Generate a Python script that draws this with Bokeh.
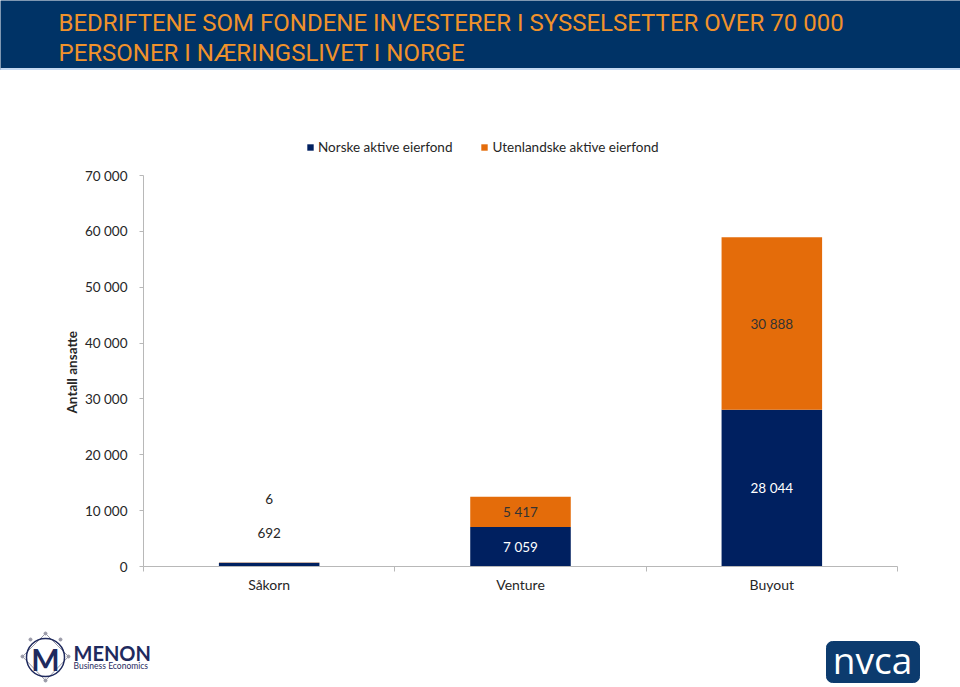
from bokeh.plotting import figure
from bokeh.models import (ColumnDataSource, Range1d, LinearAxis, Legend,
                          FixedTicker, CustomJSTickFormatter)
from bokeh.layouts import column
from bokeh.core.properties import value
from bokeh.embed import file_html
from bokeh.resources import INLINE

# ---------------- data ----------------
title_lines = ["BEDRIFTENE SOM FONDENE INVESTERER I SYSSELSETTER OVER 70 000",
               "PERSONER I NÆRINGSLIVET I NORGE"]
categories = ["Såkorn", "Venture", "Buyout"]
norske = [692, 7059, 28044]
utenlandske = [6, 5417, 30888]
series_names = ["Norske aktive eierfond", "Utenlandske aktive eierfond"]
y_ticks = [0, 10000, 20000, 30000, 40000, 50000, 60000, 70000]
y_tick_labels = ["0", "10 000", "20 000", "30 000", "40 000", "50 000", "60 000", "70 000"]
y_axis_title = "Antall ansatte"
logo_left_big = "MENON"
logo_left_small = "Business Economics"
logo_right = "nvca"

# ---------------- style ----------------
NAVY = "#002060"
ORANGE = "#E46C0A"
HEADER = "#003366"
TITLE_COLOR = "#F0922B"
AXIS_GRAY = "#B8B8B8"
TEXT = "#262626"
FONT = "Lato"
W = 960
FRAME_H = 436          # frame height incl. legend headroom
AXIS_H = 391           # pixel height of the 0..70 000 axis
HEADROOM = FRAME_H / AXIS_H
YTITLE_LEN = 85        # approx. rendered length of the y-axis title

def fmt(v):
    return f"{v:,}".replace(",", " ")

n = len(categories)
xpos = [i + 0.5 for i in range(n)]   # slot i spans [i, i+1]

# ---------------- header ----------------
hdr = figure(width=W, height=70, x_range=Range1d(0, W), y_range=Range1d(70, 0),
             output_backend="svg", toolbar_location=None, min_border=0,
             x_axis_location=None, y_axis_location=None, outline_line_color=None,
             background_fill_color=HEADER, border_fill_color=HEADER, frame_align=False)
hdr.grid.visible = False
hdr.quad(left=0, right=W, top=68, bottom=70, color="#C5D9F1")
hdr.text(x=[58, 58], y=[22, 52], text=title_lines,
         text_font=value("Roboto"), text_font_size="24px",
         text_color=TITLE_COLOR, text_baseline="alphabetic", text_align="left")

# ---------------- chart ----------------
src = ColumnDataSource(dict(x=xpos, norske=norske, utenl=utenlandske))
p = figure(x_range=Range1d(0, n), y_range=Range1d(0, y_ticks[-1] * HEADROOM),
           width=W, height=555, output_backend="svg", toolbar_location=None,
           title=y_axis_title, title_location="left",
           x_axis_location=None, min_border_left=143, min_border_right=63,
           min_border_top=60, min_border_bottom=59, outline_line_color=None,
           background_fill_color="white", border_fill_color="white", frame_align=False)
p.grid.visible = False

# y-axis title, centred on the 0..70 000 span rather than on the whole frame
p.title.align = "left"
p.title.offset = AXIS_H / 2 - YTITLE_LEN / 2
p.title.text_font = FONT
p.title.text_font_style = "bold"
p.title.text_font_size = "13.5px"
p.title.text_color = TEXT
p.title.standoff = 4

rs = p.vbar_stack(["norske", "utenl"], x="x", width=0.4, fill_color=[NAVY, ORANGE],
                  line_color=None, source=src)

# y axis
ya = p.yaxis[0]
ya.bounds = (y_ticks[0], y_ticks[-1])
ya.ticker = FixedTicker(ticks=y_ticks)
ya.major_label_overrides = dict(zip(y_ticks, y_tick_labels))
ya.major_label_text_font = FONT
ya.major_label_text_font_size = "13.5px"
ya.major_label_text_color = TEXT
ya.major_label_standoff = 12
ya.axis_line_color = AXIS_GRAY
ya.major_tick_line_color = AXIS_GRAY
ya.major_tick_in = 0
ya.major_tick_out = 4
ya.minor_tick_line_color = None

# x axis: boundary ticks (no labels) + category labels (no ticks)
bax = LinearAxis(ticker=FixedTicker(ticks=list(range(n + 1))),
                 formatter=CustomJSTickFormatter(code="return ''"),
                 axis_line_color=AXIS_GRAY, major_tick_line_color=AXIS_GRAY,
                 major_tick_in=0, major_tick_out=5, minor_tick_line_color=None,
                 major_label_standoff=0)
p.add_layout(bax, "below")
cax = LinearAxis(ticker=FixedTicker(ticks=xpos),
                 formatter=CustomJSTickFormatter(args=dict(cats=categories),
                                                 code="return cats[Math.floor(tick)]"),
                 axis_line_color=None, major_tick_line_color=None, minor_tick_line_color=None,
                 major_tick_in=0, major_tick_out=0, major_label_standoff=4,
                 major_label_text_font=FONT, major_label_text_font_size="14px",
                 major_label_text_color=TEXT)
p.add_layout(cax, "below")

# legend (inside the headroom of the frame)
lg = Legend(items=[(name, [r]) for name, r in zip(series_names, rs)],
            location=(163, 411), orientation="horizontal", padding=0, margin=0,
            border_line_color=None, background_fill_alpha=0,
            glyph_width=8, glyph_height=8, label_height=8, label_standoff=4, spacing=28,
            label_text_font=FONT, label_text_font_size="13.5px", label_text_color=TEXT,
            label_text_baseline="middle")
p.add_layout(lg, "center")

# data labels
outside_offsets = {(0, 0): -32, (0, 1): -64}
inside_colors = ["#FFFFFF", "#333333"]
lx, ly, lt, lc, lo = [], [], [], [], []
for i in range(n):
    bottom = 0
    for k, series in enumerate((norske, utenlandske)):
        v = series[i]
        lx.append(xpos[i])
        ly.append(bottom + v / 2)
        lt.append(fmt(v))
        if (i, k) in outside_offsets:
            lc.append(TEXT)
            lo.append(outside_offsets[(i, k)])
        else:
            lc.append(inside_colors[k])
            lo.append(0)
        bottom += v
lsrc = ColumnDataSource(dict(x=lx, y=ly, t=lt, c=lc, o=lo))
p.text(x="x", y="y", text="t", text_color="c", y_offset="o", source=lsrc,
       text_align="center", text_baseline="middle", text_font=value(FONT),
       text_font_size="13.5px")

# ---------------- footer (logos) ----------------
ft = figure(width=W, height=62, x_range=Range1d(0, W), y_range=Range1d(62, 0),
            output_backend="svg", toolbar_location=None, min_border=0,
            x_axis_location=None, y_axis_location=None, outline_line_color=None,
            background_fill_color="white", border_fill_color="white", frame_align=False)
ft.grid.visible = False
LOGO_NAVY = "#1F2A5E"
ft.line(x=[22, 45, 68, 45, 22], y=[31, 8, 31, 55, 31], line_color="#9A9AA8", line_width=1)
ft.scatter(x=[22, 45, 68, 45, 30, 60], y=[31, 8, 31, 55, 14, 14], size=3, color="#9A9AA8")
ft.circle(x=[45], y=[32], radius=19, fill_color=None, line_color=LOGO_NAVY, line_width=1.5)
ft.text(x=[45], y=[33], text=["M"], text_font=value(FONT), text_font_style="bold",
        text_font_size="30px", text_color=LOGO_NAVY, text_align="center", text_baseline="middle")
ft.text(x=[73], y=[27], text=[logo_left_big], text_font=value(FONT), text_font_style="bold",
        text_font_size="20px", text_color=LOGO_NAVY, text_align="left", text_baseline="middle")
ft.text(x=[73], y=[40], text=[logo_left_small], text_font=value(FONT),
        text_font_size="8.5px", text_color=LOGO_NAVY, text_align="left", text_baseline="middle")
ft.quad(left=826, right=919, top=16, bottom=57, color="#0C3B6E", border_radius=6)
ft.text(x=[872], y=[34], text=[logo_right], text_font=value("Open Sans"),
        text_font_size="37px", text_color="white", text_align="center", text_baseline="middle")

layout = column(hdr, p, ft, spacing=0)
open("out.html", "w").write(file_html(layout, INLINE))
